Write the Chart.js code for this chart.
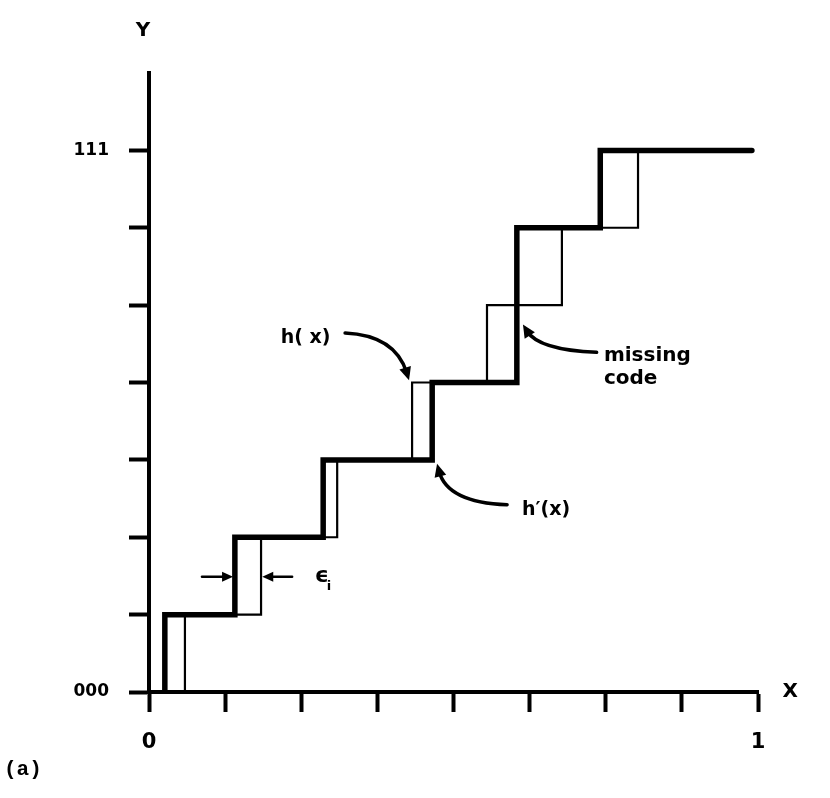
<!DOCTYPE html>
<html>
<head>
<meta charset="utf-8">
<script src="https://cdn.jsdelivr.net/npm/chart.js@4.4.0/dist/chart.umd.min.js"></script>
<style>
html,body{margin:0;padding:0;background:#fff;}
#wrap{width:830px;height:798px;position:relative;}
</style>
</head>
<body>
<div id="wrap"><canvas id="c" width="830" height="798"></canvas></div>
<script>
// ---- data ----
const xTicks = [0, 0.125, 0.25, 0.375, 0.5, 0.625, 0.75, 0.875, 1];
const xTickLabels = ['0', '', '', '', '', '', '', '', '1'];
const yTicks = [0, 1, 2, 3, 4, 5, 6, 7];
const yTickLabels = ['000', '', '', '', '', '', '', '111'];

// h'(x): thick staircase (missing code 5)
const thickStepX = [0.026, 0.141, 0.286, 0.465, 0.604, 0.741];
const thickLevels = [1, 2, 3, 4, 6, 7];
// h(x): thin staircase (ideal)
const thinStepX = [0.059, 0.184, 0.309, 0.432, 0.555, 0.678, 0.803];
const thinLevels = [1, 2, 3, 4, 5, 6, 7];
const lineEndX = 0.99;

function buildSteps(stepX, levels, endX) {
  const pts = [{x: stepX[0], y: 0}];
  for (let i = 0; i < stepX.length; i++) pts.push({x: stepX[i], y: levels[i]});
  pts.push({x: endX, y: levels[levels.length - 1]});
  return pts;
}

const FONT = '"DejaVu Sans", sans-serif';

// annotations in data units
const annotations = {
  texts: [
    {t: 'Y', x: -0.01, y: 8.55, size: 20, align: 'center'},
    {t: 'X', x: 1.053, y: 0, size: 20, align: 'center'},
    {t: 'h( x)', x: 0.257, y: 4.57, size: 19, align: 'center'},
    {t: "h\u2032(x)", x: 0.652, y: 2.35, size: 19, align: 'center'},
    {t: 'missing', x: 0.747, y: 4.34, size: 20, align: 'left'},
    {t: 'code', x: 0.747, y: 4.05, size: 20, align: 'left'},
  ],
  curves: [
    {from: [0.322, 4.64], ctrl: [0.404, 4.61], to: [0.427, 4.03]},
    {from: [0.588, 2.42], ctrl: [0.49, 2.45], to: [0.473, 2.95]},
    {from: [0.735, 4.39], ctrl: [0.64, 4.42], to: [0.614, 4.75]},
  ],
  arrows: [
    {from: [0.087, 1.49], to: [0.138, 1.49]},
    {from: [0.235, 1.49], to: [0.186, 1.49]},
  ],
  eps: {x: 0.272, y: 1.49}
};

function headAt(ctx, tx, ty, ang, len, wid) {
  ctx.beginPath();
  ctx.moveTo(tx, ty);
  ctx.lineTo(tx - len * Math.cos(ang) + wid * Math.sin(ang), ty - len * Math.sin(ang) - wid * Math.cos(ang));
  ctx.lineTo(tx - len * Math.cos(ang) - wid * Math.sin(ang), ty - len * Math.sin(ang) + wid * Math.cos(ang));
  ctx.closePath();
  ctx.fill();
}

const annotPlugin = {
  id: 'annot',
  afterDraw(chart) {
    const ctx = chart.ctx;
    const xs = chart.scales.x, ys = chart.scales.y;
    const px = v => xs.getPixelForValue(v), py = v => ys.getPixelForValue(v);
    ctx.save();
    ctx.fillStyle = '#000';
    ctx.strokeStyle = '#000';
    ctx.textBaseline = 'middle';
    annotations.texts.forEach(a => {
      ctx.font = 'bold ' + a.size + 'px ' + FONT;
      ctx.textAlign = a.align;
      ctx.fillText(a.t, px(a.x), py(a.y));
    });
    // epsilon_i
    ctx.textAlign = 'left';
    ctx.font = 'bold 22px ' + FONT;
    ctx.fillText('\u03f5', px(annotations.eps.x), py(annotations.eps.y));
    ctx.font = 'bold 13px ' + FONT;
    ctx.fillText('i', px(annotations.eps.x) + 12, py(annotations.eps.y) + 10);
    // curved arrows
    ctx.lineWidth = 3.5;
    ctx.lineCap = 'round';
    annotations.curves.forEach(c => {
      const x0 = px(c.from[0]), y0 = py(c.from[1]);
      const cx = px(c.ctrl[0]), cy = py(c.ctrl[1]);
      const x1 = px(c.to[0]), y1 = py(c.to[1]);
      const ang = Math.atan2(y1 - cy, x1 - cx);
      const ex = x1 - 8 * Math.cos(ang), ey = y1 - 8 * Math.sin(ang);
      ctx.beginPath();
      ctx.moveTo(x0, y0);
      ctx.quadraticCurveTo(cx, cy, ex, ey);
      ctx.stroke();
      headAt(ctx, x1, y1, ang, 13, 6);
    });
    // straight arrows
    ctx.lineWidth = 2.5;
    annotations.arrows.forEach(a => {
      const x0 = px(a.from[0]), y0 = py(a.from[1]);
      const x1 = px(a.to[0]), y1 = py(a.to[1]);
      const ang = Math.atan2(y1 - y0, x1 - x0);
      ctx.beginPath();
      ctx.moveTo(x0, y0);
      ctx.lineTo(x1 - 8 * Math.cos(ang), y1 - 8 * Math.sin(ang));
      ctx.stroke();
      headAt(ctx, x1, y1, ang, 11, 5);
    });
    // (a)
    ctx.textAlign = 'left';
    ctx.font = 'bold 21px "Liberation Mono", "DejaVu Sans Mono", monospace';
    ctx.fillText('(a)', 4, 770);
    ctx.restore();
  }
};

new Chart(document.getElementById('c'), {
  type: 'scatter',
  data: {
    datasets: [
      {
        label: "h'(x)",
        data: buildSteps(thickStepX, thickLevels, lineEndX),
        showLine: true, stepped: 'before',
        borderColor: '#000', borderWidth: 5.5, pointRadius: 0,
        borderJoinStyle: 'miter', borderCapStyle: 'round', order: 0
      },
      {
        label: 'h(x)',
        data: buildSteps(thinStepX, thinLevels, lineEndX),
        showLine: true, stepped: 'before',
        borderColor: '#000', borderWidth: 2.2, pointRadius: 0,
        borderJoinStyle: 'miter', order: 1
      }
    ]
  },
  options: {
    responsive: false,
    animation: false,
    events: [],
    layout: {padding: {top: 73, right: 72, bottom: 0, left: 0}},
    plugins: {legend: {display: false}, tooltip: {enabled: false}},
    scales: {
      x: {
        type: 'linear', min: 0, max: 1,
        afterBuildTicks: s => { s.ticks = xTicks.map(v => ({value: v})); },
        afterFit: s => { s.height = 106; },
        ticks: {
          autoSkip: false, maxRotation: 0, padding: 18, color: '#000',
          font: {family: FONT, size: 21, weight: 'bold'},
          callback: (v, i) => xTickLabels[i]
        },
        grid: {display: true, drawOnChartArea: false, drawTicks: true, tickLength: 20, tickWidth: 4, tickColor: '#000'},
        border: {display: true, width: 4, color: '#000'}
      },
      y: {
        type: 'linear', min: 0, max: 8,
        afterBuildTicks: s => { s.ticks = yTicks.map(v => ({value: v})); },
        afterFit: s => { s.width = 149; },
        ticks: {
          autoSkip: false, padding: 20, color: '#000',
          font: {family: FONT, size: 17, weight: 'bold'},
          callback: (v, i) => yTickLabels[i]
        },
        grid: {display: true, drawOnChartArea: false, drawTicks: true, tickLength: 20, tickWidth: 4, tickColor: '#000'},
        border: {display: true, width: 4, color: '#000'}
      }
    }
  },
  plugins: [annotPlugin]
});
</script>
</body>
</html>
